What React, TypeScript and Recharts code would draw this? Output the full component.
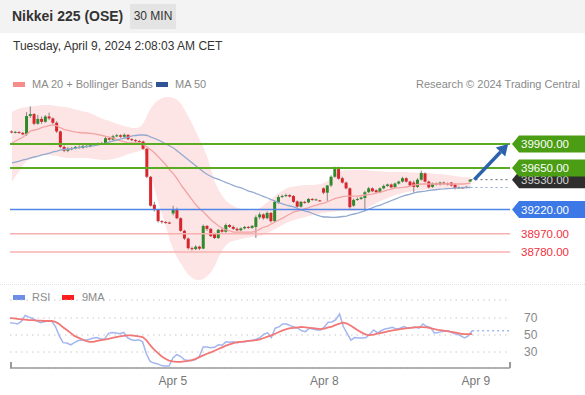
import React from "react";
import {
	ComposedChart,
	Bar,
	Line,
	Area,
	XAxis,
	YAxis,
	CartesianGrid,
	ReferenceLine,
} from "recharts";

// 30 min candles, oldest first
const opens = [
	40030, 40020, 40025, 40015, 40000, 40190, 40210, 40110, 40160, 40130,
	40185, 40165, 40120, 40030, 39870, 39830, 39850, 39855, 39870, 39860,
	39880, 39875, 39890, 39900, 39905, 39900, 39960, 39945, 39980, 39990,
	39975, 39995, 39950, 39940, 39930, 39925, 39850, 39560, 39270, 39215,
	39100, 39090, 39085, 39180, 39220, 39130, 39000, 38920, 38820, 38810,
	38835, 38815, 39050, 39020, 38970, 38925, 39010, 38990, 39060, 39040,
	39020, 39005, 39025, 39040, 39030, 39040, 39140, 39170, 39130, 39185,
	39100, 39290, 39350, 39360, 39370, 39360, 39305, 39250, 39300, 39295,
	39330, 39320, 39315, 39440, 39395, 39470, 39560, 39640, 39545, 39500,
	39440, 39260, 39320, 39330, 39340, 39400, 39440, 39420, 39400, 39440,
	39465, 39480, 39450, 39490, 39510, 39545, 39510, 39500, 39455, 39530,
	39595, 39510, 39455, 39490, 39480, 39500, 39490, 39500, 39480, 39440,
	39450, 39445, 39510,
];
const highs = [
	40040, 40035, 40030, 40025, 40230, 40290, 40220, 40200, 40185, 40200,
	40225, 40175, 40135, 40040, 39885, 39870, 39870, 39880, 39885, 39890,
	39895, 39900, 39910, 39915, 39920, 39975, 39970, 39995, 40005, 40000,
	40010, 40000, 39960, 39950, 39940, 39935, 39860, 39570, 39300, 39225,
	39110, 39100, 39095, 39260, 39240, 39140, 39010, 38930, 38835, 38850,
	38845, 39065, 39060, 39030, 38980, 39020, 39030, 39075, 39070, 39055,
	39035, 39035, 39050, 39050, 39060, 39160, 39190, 39180, 39200, 39195,
	39315, 39370, 39375, 39385, 39380, 39370, 39315, 39310, 39310, 39340,
	39340, 39335, 39320, 39450, 39475, 39575, 39665, 39665, 39560, 39510,
	39450, 39335, 39345, 39355, 39415, 39455, 39450, 39430, 39450, 39480,
	39490, 39490, 39500, 39520, 39560, 39555, 39520, 39520, 39545, 39625,
	39605, 39520, 39500, 39500, 39510, 39510, 39500, 39505, 39490, 39460,
	39455, 39465, 39535,
];
const lows = [
	40010, 40010, 40005, 39990, 39985, 40170, 40095, 40100, 40110, 40120,
	40150, 40105, 40015, 39855, 39815, 39815, 39835, 39845, 39850, 39850,
	39860, 39865, 39880, 39890, 39890, 39890, 39935, 39935, 39970, 39965,
	39965, 39940, 39930, 39920, 39915, 39840, 39545, 39250, 39200, 39085,
	39075, 39075, 39070, 39160, 39120, 38990, 38905, 38805, 38795, 38800,
	38800, 38810, 39000, 38935, 38915, 38915, 38980, 38980, 39030, 39010,
	38995, 38995, 39015, 39020, 39020, 38925, 39120, 39115, 39120, 39085,
	39090, 39280, 39340, 39350, 39345, 39290, 39240, 39240, 39280, 39285,
	39310, 39315, 39305, 39380, 39310, 39455, 39550, 39530, 39490, 39430,
	39230, 39250, 39310, 39320, 39210, 39390, 39400, 39385, 39390, 39430,
	39455, 39440, 39440, 39480, 39500, 39500, 39460, 39395, 39445, 39520,
	39500, 39440, 39445, 39470, 39470, 39480, 39470, 39460, 39430, 39435,
	39435, 39440, 39505,
];
const closes = [
	40020, 40025, 40020, 40000, 40190, 40210, 40110, 40160, 40130, 40185,
	40165, 40120, 40030, 39870, 39830, 39850, 39855, 39870, 39860, 39880,
	39875, 39890, 39900, 39905, 39900, 39960, 39945, 39980, 39990, 39975,
	39995, 39950, 39940, 39930, 39925, 39850, 39560, 39260, 39215, 39100,
	39090, 39085, 39080, 39220, 39130, 39000, 38920, 38820, 38810, 38835,
	38815, 39050, 39020, 38945, 38925, 39010, 38990, 39060, 39040, 39020,
	39005, 39025, 39040, 39030, 39050, 39140, 39170, 39130, 39185, 39100,
	39300, 39350, 39360, 39370, 39355, 39300, 39250, 39300, 39290, 39330,
	39320, 39325, 39310, 39395, 39470, 39560, 39640, 39540, 39500, 39440,
	39245, 39320, 39330, 39345, 39400, 39440, 39410, 39400, 39440, 39465,
	39480, 39450, 39490, 39510, 39545, 39510, 39470, 39455, 39530, 39600,
	39510, 39450, 39490, 39480, 39500, 39490, 39480, 39470, 39440, 39450,
	39445, 39455, 39530,
];

const ma20 = [
	39910, 39931, 39952, 39972, 40004, 40035, 40045, 40055, 40071, 40081,
	40092, 40097, 40087, 40066, 40050, 40040, 40030, 40024, 40019, 40014,
	40014, 40009, 40004, 39998, 39988, 39978, 39972, 39962, 39946, 39931,
	39921, 39910, 39910, 39910, 39910, 39890, 39869, 39838, 39806, 39765,
	39723, 39682, 39630, 39589, 39537, 39475, 39423, 39371, 39319, 39267,
	39226, 39195, 39153, 39112, 39080, 39049, 39029, 39008, 38998, 38987,
	38987, 38987, 38987, 38987, 38987, 38998, 39018, 39039, 39049, 39070,
	39091, 39112, 39132, 39153, 39174, 39195, 39205, 39216, 39231, 39241,
	39257, 39267, 39278, 39288, 39303, 39319, 39335, 39345, 39355, 39360,
	39360, 39360, 39360, 39366, 39371, 39376, 39381, 39392, 39402, 39412,
	39423, 39433, 39444, 39444, 39449, 39454, 39464, 39475, 39480, 39485,
	39485, 39485, 39485, 39485, 39485, 39485, 39485, 39485, 39485, 39485,
	39485, 39490, 39495,
];
const ma50 = [
	39703, 39713, 39723, 39734, 39744, 39755, 39765, 39775, 39786, 39796,
	39806, 39817, 39827, 39838, 39843, 39848, 39853, 39858, 39864, 39869,
	39874, 39879, 39884, 39890, 39900, 39910, 39921, 39931, 39941, 39952,
	39962, 39972, 39983, 39988, 39993, 39993, 39988, 39972, 39957, 39941,
	39921, 39900, 39879, 39858, 39827, 39796, 39765, 39734, 39703, 39672,
	39641, 39609, 39583, 39563, 39547, 39532, 39516, 39500, 39485, 39469,
	39454, 39444, 39428, 39412, 39402, 39386, 39371, 39355, 39340, 39324,
	39309, 39293, 39278, 39267, 39257, 39247, 39231, 39216, 39205, 39195,
	39179, 39164, 39153, 39143, 39143, 39138, 39138, 39143, 39148, 39153,
	39164, 39174, 39184, 39195, 39210, 39226, 39241, 39257, 39267, 39283,
	39298, 39314, 39329, 39345, 39360, 39371, 39381, 39392, 39402, 39407,
	39412, 39418, 39423, 39428, 39433, 39435, 39438, 39440, 39444, 39444,
	39446, 39449, 39449,
];
const bbUpper = [
	40232, 40252, 40268, 40278, 40283, 40289, 40294, 40299, 40304, 40304,
	40304, 40299, 40294, 40289, 40283, 40278, 40268, 40257, 40247, 40237,
	40232, 40216, 40201, 40180, 40164, 40149, 40138, 40123, 40107, 40097,
	40087, 40076, 40066, 40066, 40076, 40118, 40201, 40273, 40325, 40356,
	40377, 40387, 40387, 40377, 40356, 40315, 40252, 40180, 40107, 40024,
	39941, 39858, 39765, 39630, 39506, 39423, 39360, 39309, 39278, 39257,
	39236, 39226, 39216, 39210, 39210, 39216, 39236, 39267, 39298, 39329,
	39360, 39392, 39418, 39438, 39454, 39459, 39464, 39469, 39475, 39475,
	39475, 39480, 39485, 39495, 39516, 39547, 39578, 39609, 39625, 39630,
	39630, 39630, 39630, 39630, 39630, 39625, 39620, 39620, 39615, 39615,
	39609, 39609, 39609, 39609, 39609, 39609, 39604, 39604, 39604, 39599,
	39599, 39599, 39594, 39589, 39589, 39583, 39578, 39573, 39568, 39563,
	39558, 39558, 39552,
];
const bbLower = [
	39506, 39568, 39620, 39682, 39723, 39744, 39760, 39775, 39786, 39786,
	39786, 39781, 39775, 39765, 39760, 39755, 39755, 39755, 39755, 39755,
	39755, 39749, 39744, 39739, 39734, 39734, 39739, 39744, 39755, 39765,
	39781, 39796, 39806, 39817, 39827, 39838, 39734, 39578, 39423, 39288,
	39164, 39039, 38905, 38801, 38718, 38656, 38593, 38542, 38510, 38490,
	38490, 38500, 38531, 38573, 38635, 38728, 38801, 38853, 38884, 38894,
	38905, 38915, 38925, 38930, 38936, 38941, 38946, 38956, 38977, 38998,
	39018, 39039, 39060, 39080, 39096, 39112, 39122, 39132, 39143, 39153,
	39164, 39174, 39179, 39184, 39189, 39195, 39200, 39205, 39205, 39205,
	39205, 39205, 39210, 39216, 39226, 39247, 39267, 39288, 39309, 39324,
	39340, 39355, 39371, 39381, 39392, 39402, 39407, 39412, 39418, 39423,
	39428, 39433, 39433, 39438, 39438, 39444, 39444, 39444, 39444, 39449,
	39449, 39454, 39454,
];

const rsi = [
	64.5, 64, 63, 66, 73, 71, 69.5, 67, 64.5, 65.5,
	66.5, 66.5, 60, 49, 41, 40.5, 38.5, 41, 43.5, 44,
	44, 45, 46.5, 47, 45, 45.5, 52, 53, 52.5, 51.5,
	53, 47, 44.5, 43.5, 44.5, 42, 28, 19, 17, 16,
	14, 13.5, 13.5, 23, 27, 25, 21, 20, 20, 21,
	25, 36, 36, 35, 35.5, 38.5, 38, 42, 41.5, 42,
	41, 42, 42, 43, 44, 45, 47, 51, 52.5, 47,
	58, 59.5, 63, 63, 61, 59.5, 58, 55, 54, 58,
	57, 56, 56, 59.5, 65, 65.3, 68, 74.7, 60, 52,
	44, 47, 46.5, 46.5, 47, 51, 56, 52.5, 55, 57,
	58, 59, 57, 58, 60, 58, 59, 59.4, 58, 63,
	60, 59, 52.4, 53, 54, 54.5, 54.7, 52, 51, 49,
	46.5, 48.8, 55,
];
const rsiMa9 = [
	70, 69.5, 69, 68.5, 68, 67.5, 67.5, 67, 67, 66.5,
	66.5, 66.5, 65.5, 63, 59, 56, 52.5, 49, 47, 45,
	43, 42, 42, 43, 44, 44.5, 45.5, 46.5, 47.5, 48.5,
	49, 49.5, 49.5, 49, 48.5, 47.5, 44, 38, 33, 29,
	25, 22, 20, 19, 18.5, 18.5, 19, 19.5, 20.5, 22,
	24, 26, 28, 29.5, 31.5, 33.5, 35.5, 37.5, 39, 40.5,
	41.5, 42, 42.5, 43, 43.5, 44, 45, 46.5, 48, 49.5,
	51.5, 53.5, 55.5, 57, 58, 58.5, 59, 59.5, 59, 58.5,
	58, 57.5, 57, 57.5, 59, 60, 62, 63.5, 64.5, 63.5,
	61, 58, 55, 52.5, 50.5, 50, 50.5, 51.5, 52.5, 53.5,
	54.5, 55.5, 56, 57, 57.5, 58, 58.5, 59, 59.2, 59.4,
	59, 58, 57, 56, 55.5, 55, 54, 53.5, 52.5, 51.5,
	51, 51, 51,
];

const dayTicks = [43, 83, 123];
const dayLabels = ["Apr 5", "Apr 8", "Apr 9"];
const rsiLevels = [30, 50, 70];

const resistances = [39900, 39650];
const pivot = 39220;
const supports = [38970, 38780];

const SLOTS = 133;
const FONT = "'Liberation Sans', Arial, sans-serif";
const last = closes.length - 1;

const rows = Array.from({ length: SLOTS }, (_, i) =>
	i <= last
		? {
				idx: i,
				range: [lows[i], highs[i]],
				open: opens[i],
				close: closes[i],
				ma20: ma20[i],
				ma50: ma50[i],
				band: [bbLower[i], bbUpper[i]],
				rsi: rsi[i],
				ma9: rsiMa9[i],
		  }
		: { idx: i }
);

const Candle = (props: any) => {
	const { x, y, width, height, payload } = props;
	if (!payload || payload.open == null) return null;
	const [low, high] = payload.range;
	const top = Math.min(y, y + height);
	const h = Math.abs(height);
	const k = high === low ? 0 : h / (high - low);
	const yO = top + (high - payload.open) * k;
	const yC = top + (high - payload.close) * k;
	const cx = x + width / 2;
	const up = payload.close >= payload.open;
	return (
		<g>
			<line x1={cx} x2={cx} y1={top} y2={top + h} stroke="#6b6b6b" strokeWidth={0.8} />
			<rect
				x={x}
				y={Math.min(yO, yC)}
				width={width}
				height={Math.max(Math.abs(yO - yC), 1)}
				fill={up ? "#2f8a2c" : "#d8262c"}
			/>
		</g>
	);
};

const PriceTag = (props: any) => {
	const { viewBox, text, fill, color } = props;
	if (!viewBox) return null;
	const x = viewBox.x + viewBox.width + 2;
	const y = viewBox.y;
	return (
		<g>
			{fill && (
				<path
					d={`M${x} ${y} L${x + 7} ${y - 8.5} H585 V${y + 8.5} H${x + 7} Z`}
					fill={fill}
				/>
			)}
			<text x={x + 9} y={y} dy="0.36em" fontSize={11.5} fontFamily={FONT} fill={color}>
				{text}
			</text>
		</g>
	);
};

const Arrow = (p: any) => {
	const { x1, y1, x2, y2 } = p;
	const a = Math.atan2(y2 - y1, x2 - x1);
	const hl = 11;
	const hw = 6.5;
	const bx = x2 - hl * Math.cos(a);
	const by = y2 - hl * Math.sin(a);
	const px = -Math.sin(a) * hw;
	const py = Math.cos(a) * hw;
	return (
		<g>
			<line x1={x1} y1={y1} x2={bx} y2={by} stroke="#2c62ac" strokeWidth={3.5} />
			<polygon
				points={`${x2},${y2} ${bx + px},${by + py} ${bx - px},${by - py}`}
				fill="#2c62ac"
			/>
		</g>
	);
};

const swatch = (color: string, left: number, top: number) => (
	<div style={{ position: "absolute", left, top, width: 12, height: 5, background: color }} />
);

const small = (text: string, left: number, top: number, extra: any = {}) => (
	<div style={{ position: "absolute", left, top, fontSize: 11, color: "#8a8a8a", ...extra }}>{text}</div>
);

export default function App() {
	return (
		<div
			style={{
				position: "fixed",
				left: 0,
				top: 0,
				width: 585,
				height: 395,
				background: "#fff",
				fontFamily: FONT,
				overflow: "hidden",
			}}
		>
			<div style={{ position: "absolute", left: 0, top: 0, width: 585, height: 33, background: "#f3f3f3" }} />
			<div style={{ position: "absolute", left: 12, top: 8, fontSize: 14, fontWeight: "bold", color: "#333" }}>
				Nikkei 225 (OSE)
			</div>
			<div
				style={{
					position: "absolute",
					left: 130,
					top: 4,
					width: 46,
					height: 25,
					background: "#e4e4e4",
					fontSize: 12,
					color: "#333",
					lineHeight: "25px",
					textAlign: "center",
				}}
			>
				30 MIN
			</div>
			<div style={{ position: "absolute", left: 13, top: 39, fontSize: 12, color: "#333" }}>
				Tuesday, April 9, 2024 2:08:03 AM CET
			</div>

			{swatch("#f78c8c", 13, 82)}
			{small("MA 20 + Bollinger Bands", 32, 78)}
			{swatch("#2f5597", 156, 82)}
			{small("MA 50", 175, 78)}
			{small("Research © 2024 Trading Central", 0, 78, { width: 580, textAlign: "right" })}

			<div style={{ position: "absolute", left: 0, top: 92 }}>
				<ComposedChart width={585} height={198} data={rows} margin={{ top: 0, right: 75, bottom: 0, left: 10 }}>
					<XAxis dataKey="idx" hide />
					<YAxis hide width={0} domain={[38386, 40439]} allowDataOverflow />
					<Area
						dataKey="band"
						fill="#fde5e5"
						fillOpacity={1}
						stroke="none"
						isAnimationActive={false}
					/>
					<Line dataKey="ma20" stroke="#f4a3a3" strokeWidth={1.3} dot={false} isAnimationActive={false} />
					<Line dataKey="ma50" stroke="#93a9cf" strokeWidth={1.3} dot={false} isAnimationActive={false} />
					<Bar dataKey="range" barSize={3} shape={Candle} isAnimationActive={false} />

					{resistances.map((v) => (
						<ReferenceLine key={v} y={v} stroke="#5aaa22" strokeWidth={2} />
					))}
					<ReferenceLine y={pivot} stroke="#4f86e8" strokeWidth={1.5} />
					{supports.map((v) => (
						<ReferenceLine key={v} y={v} stroke="#f7b0b0" strokeWidth={1.5} />
					))}

					<ReferenceLine
						segment={[{ x: last, y: closes[last] }, { x: SLOTS - 1, y: closes[last] }]}
						stroke="#666"
						strokeDasharray="2 3"
					/>
					<ReferenceLine
						segment={[{ x: last, y: ma50[last] }, { x: SLOTS - 1, y: ma50[last] }]}
						stroke="#8ea8dc"
						strokeDasharray="2 3"
					/>

					<ReferenceLine
						y={closes[last]}
						stroke="none"
						label={<PriceTag text={closes[last].toFixed(2)} fill="#2e2e2e" color="#d6d6d6" />}
					/>
					{resistances.map((v) => (
						<ReferenceLine
							key={"t" + v}
							y={v}
							stroke="none"
							label={<PriceTag text={v.toFixed(2)} fill="#4b9e14" color="#fff" />}
						/>
					))}
					<ReferenceLine
						y={pivot}
						stroke="none"
						label={<PriceTag text={pivot.toFixed(2)} fill="#3c78e6" color="#fff" />}
					/>
					{supports.map((v) => (
						<ReferenceLine
							key={"t" + v}
							y={v}
							stroke="none"
							label={<PriceTag text={v.toFixed(2)} color="#f0303e" />}
						/>
					))}

					<ReferenceLine
						segment={[{ x: last + 1, y: closes[last] }, { x: SLOTS - 1, y: resistances[0] }]}
						shape={Arrow}
					/>
				</ComposedChart>
			</div>

			<div
				style={{
					position: "absolute",
					left: 0,
					top: 284,
					width: 585,
					borderTop: "1px dotted #e2e2e2",
				}}
			/>

			{swatch("#6d8de6", 13, 295)}
			{small("RSI", 32, 291)}
			{swatch("#ff1c1c", 62, 295)}
			{small("9MA", 82, 291)}

			<div style={{ position: "absolute", left: 0, top: 290 }}>
				<ComposedChart width={585} height={105} data={rows} margin={{ top: 10, right: 0, bottom: 0, left: 10 }}>
					<CartesianGrid vertical={false} stroke="#c8c8c8" strokeDasharray="1.5 4" />
					<XAxis
						dataKey="idx"
						ticks={dayTicks}
						interval={0}
						tickFormatter={(v: number) => dayLabels[dayTicks.indexOf(v)]}
						tickLine={false}
						axisLine={{ stroke: "#9a9a9a", strokeWidth: 1.5 }}
						tick={{ fill: "#777", fontSize: 12, fontFamily: FONT }}
						height={27}
					/>
					<YAxis
						orientation="right"
						width={75}
						domain={[11.2, 91.2]}
						ticks={rsiLevels}
						interval={0}
						allowDataOverflow
						axisLine={false}
						tickLine={false}
						tickMargin={8}
						tick={{ fill: "#888", fontSize: 12, fontFamily: FONT, textAnchor: "start" }}
					/>
					<Line dataKey="rsi" stroke="#a3b6f0" strokeWidth={1.5} dot={false} isAnimationActive={false} />
					<Line dataKey="ma9" stroke="#f27777" strokeWidth={1.8} dot={false} isAnimationActive={false} />
					<ReferenceLine
						segment={[{ x: last, y: rsi[last] }, { x: SLOTS - 1, y: rsi[last] }]}
						stroke="#a3b6f0"
						strokeDasharray="2 3"
						strokeWidth={1.5}
					/>
				</ComposedChart>
			</div>
			<div style={{ position: "absolute", left: 10, top: 362, width: 1.5, height: 6, background: "#9a9a9a" }} />
			<div style={{ position: "absolute", left: 509, top: 362, width: 1.5, height: 6, background: "#9a9a9a" }} />
		</div>
	);
}
